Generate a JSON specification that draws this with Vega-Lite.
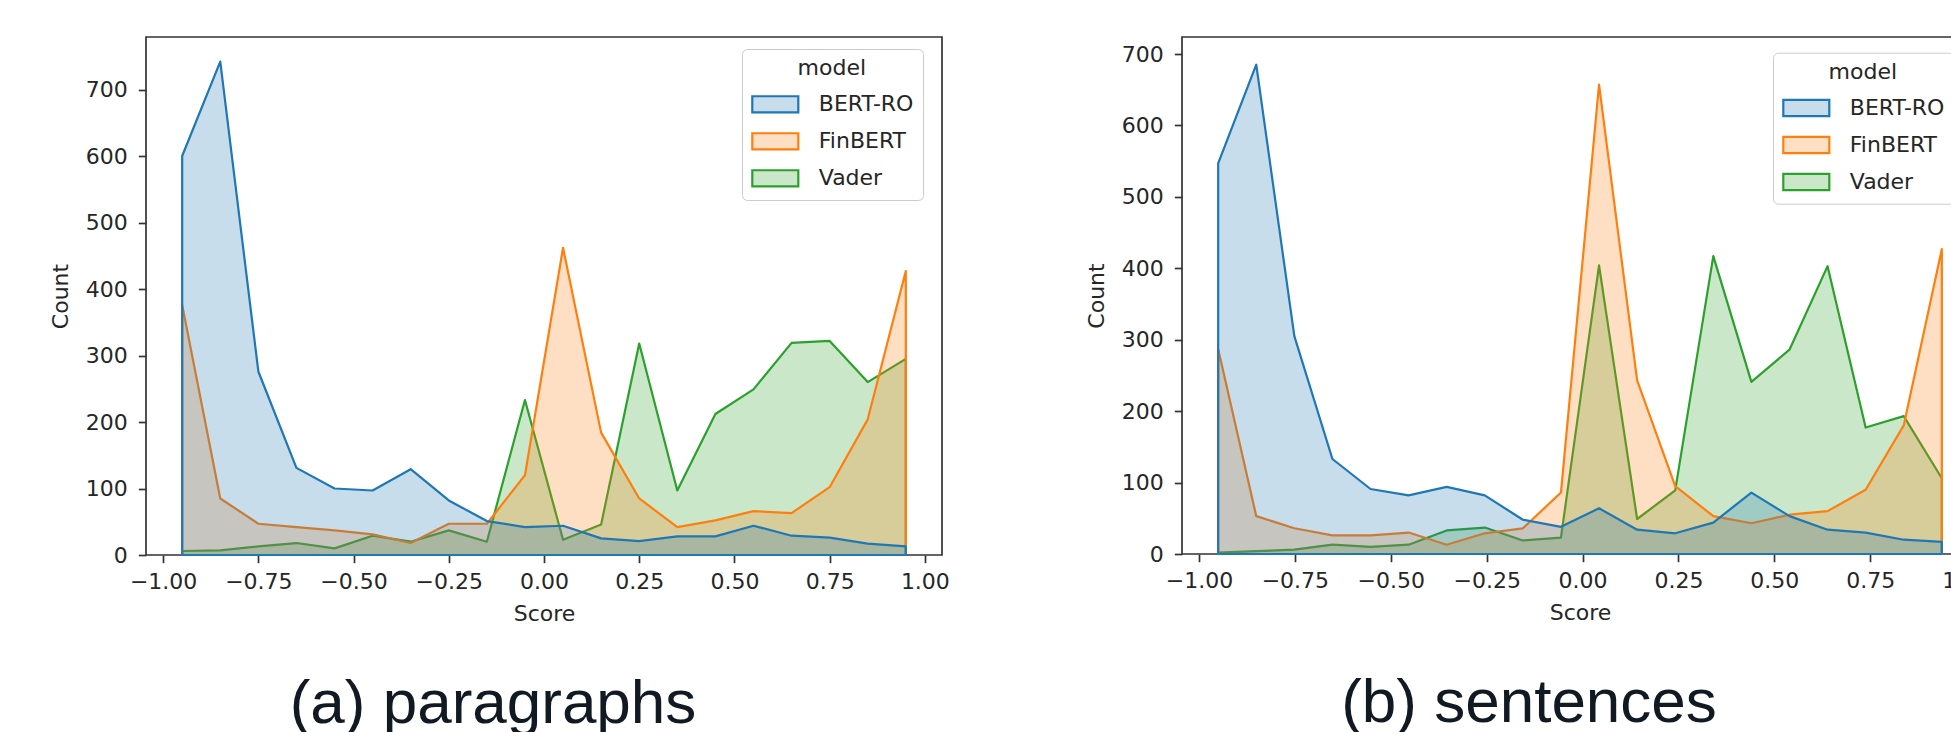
{
  "$schema": "https://vega.github.io/schema/vega-lite/v6.json",
  "background": "white",
  "padding": {"left": 48, "top": 36, "right": 0, "bottom": 0},
  "autosize": {"type": "pad"},
  "bounds": "flush",
  "spacing": 240,
  "resolve": {"scale": {"fill": "independent", "stroke": "independent"}, "legend": {"fill": "independent", "stroke": "independent"}},
  "datasets": {
    "paragraphs": [
      {"model": "Vader", "score": -0.95, "count": 6}, {"model": "Vader", "score": -0.85, "count": 7}, {"model": "Vader", "score": -0.75, "count": 13}, {"model": "Vader", "score": -0.65, "count": 18}, {"model": "Vader", "score": -0.55, "count": 10}, {"model": "Vader", "score": -0.45, "count": 29}, {"model": "Vader", "score": -0.35, "count": 20}, {"model": "Vader", "score": -0.25, "count": 37}, {"model": "Vader", "score": -0.15, "count": 20}, {"model": "Vader", "score": -0.05, "count": 233}, {"model": "Vader", "score": 0.05, "count": 23}, {"model": "Vader", "score": 0.15, "count": 46}, {"model": "Vader", "score": 0.25, "count": 318}, {"model": "Vader", "score": 0.35, "count": 97}, {"model": "Vader", "score": 0.45, "count": 212}, {"model": "Vader", "score": 0.55, "count": 249}, {"model": "Vader", "score": 0.65, "count": 319}, {"model": "Vader", "score": 0.75, "count": 322}, {"model": "Vader", "score": 0.85, "count": 260}, {"model": "Vader", "score": 0.95, "count": 295},
      {"model": "FinBERT", "score": -0.95, "count": 376}, {"model": "FinBERT", "score": -0.85, "count": 85}, {"model": "FinBERT", "score": -0.75, "count": 47}, {"model": "FinBERT", "score": -0.65, "count": 42}, {"model": "FinBERT", "score": -0.55, "count": 37}, {"model": "FinBERT", "score": -0.45, "count": 31}, {"model": "FinBERT", "score": -0.35, "count": 18}, {"model": "FinBERT", "score": -0.25, "count": 47}, {"model": "FinBERT", "score": -0.15, "count": 47}, {"model": "FinBERT", "score": -0.05, "count": 120}, {"model": "FinBERT", "score": 0.05, "count": 462}, {"model": "FinBERT", "score": 0.15, "count": 184}, {"model": "FinBERT", "score": 0.25, "count": 85}, {"model": "FinBERT", "score": 0.35, "count": 42}, {"model": "FinBERT", "score": 0.45, "count": 52}, {"model": "FinBERT", "score": 0.55, "count": 66}, {"model": "FinBERT", "score": 0.65, "count": 63}, {"model": "FinBERT", "score": 0.75, "count": 102}, {"model": "FinBERT", "score": 0.85, "count": 204}, {"model": "FinBERT", "score": 0.95, "count": 427},
      {"model": "BERT-RO", "score": -0.95, "count": 600}, {"model": "BERT-RO", "score": -0.85, "count": 742}, {"model": "BERT-RO", "score": -0.75, "count": 276}, {"model": "BERT-RO", "score": -0.65, "count": 131}, {"model": "BERT-RO", "score": -0.55, "count": 100}, {"model": "BERT-RO", "score": -0.45, "count": 97}, {"model": "BERT-RO", "score": -0.35, "count": 129}, {"model": "BERT-RO", "score": -0.25, "count": 82}, {"model": "BERT-RO", "score": -0.15, "count": 51}, {"model": "BERT-RO", "score": -0.05, "count": 42}, {"model": "BERT-RO", "score": 0.05, "count": 44}, {"model": "BERT-RO", "score": 0.15, "count": 25}, {"model": "BERT-RO", "score": 0.25, "count": 21}, {"model": "BERT-RO", "score": 0.35, "count": 28}, {"model": "BERT-RO", "score": 0.45, "count": 28}, {"model": "BERT-RO", "score": 0.55, "count": 44}, {"model": "BERT-RO", "score": 0.65, "count": 29}, {"model": "BERT-RO", "score": 0.75, "count": 26}, {"model": "BERT-RO", "score": 0.85, "count": 17}, {"model": "BERT-RO", "score": 0.95, "count": 13}
    ],
    "sentences": [
      {"model": "Vader", "score": -0.95, "count": 2}, {"model": "Vader", "score": -0.8507, "count": 4}, {"model": "Vader", "score": -0.7514, "count": 6}, {"model": "Vader", "score": -0.6521, "count": 13}, {"model": "Vader", "score": -0.5528, "count": 10}, {"model": "Vader", "score": -0.4535, "count": 13}, {"model": "Vader", "score": -0.3542, "count": 33}, {"model": "Vader", "score": -0.2549, "count": 37}, {"model": "Vader", "score": -0.1556, "count": 19}, {"model": "Vader", "score": -0.0563, "count": 23}, {"model": "Vader", "score": 0.043, "count": 404}, {"model": "Vader", "score": 0.1423, "count": 49}, {"model": "Vader", "score": 0.2416, "count": 89}, {"model": "Vader", "score": 0.3409, "count": 417}, {"model": "Vader", "score": 0.4402, "count": 241}, {"model": "Vader", "score": 0.5395, "count": 286}, {"model": "Vader", "score": 0.6388, "count": 403}, {"model": "Vader", "score": 0.7381, "count": 177}, {"model": "Vader", "score": 0.8374, "count": 193}, {"model": "Vader", "score": 0.9367, "count": 106},
      {"model": "FinBERT", "score": -0.95, "count": 287}, {"model": "FinBERT", "score": -0.8507, "count": 53}, {"model": "FinBERT", "score": -0.7514, "count": 36}, {"model": "FinBERT", "score": -0.6521, "count": 26}, {"model": "FinBERT", "score": -0.5528, "count": 26}, {"model": "FinBERT", "score": -0.4535, "count": 30}, {"model": "FinBERT", "score": -0.3542, "count": 13}, {"model": "FinBERT", "score": -0.2549, "count": 29}, {"model": "FinBERT", "score": -0.1556, "count": 36}, {"model": "FinBERT", "score": -0.0563, "count": 86}, {"model": "FinBERT", "score": 0.043, "count": 657}, {"model": "FinBERT", "score": 0.1423, "count": 243}, {"model": "FinBERT", "score": 0.2416, "count": 95}, {"model": "FinBERT", "score": 0.3409, "count": 53}, {"model": "FinBERT", "score": 0.4402, "count": 43}, {"model": "FinBERT", "score": 0.5395, "count": 55}, {"model": "FinBERT", "score": 0.6388, "count": 60}, {"model": "FinBERT", "score": 0.7381, "count": 90}, {"model": "FinBERT", "score": 0.8374, "count": 180}, {"model": "FinBERT", "score": 0.9367, "count": 427},
      {"model": "BERT-RO", "score": -0.95, "count": 547}, {"model": "BERT-RO", "score": -0.8507, "count": 685}, {"model": "BERT-RO", "score": -0.7514, "count": 305}, {"model": "BERT-RO", "score": -0.6521, "count": 133}, {"model": "BERT-RO", "score": -0.5528, "count": 91}, {"model": "BERT-RO", "score": -0.4535, "count": 82}, {"model": "BERT-RO", "score": -0.3542, "count": 94}, {"model": "BERT-RO", "score": -0.2549, "count": 82}, {"model": "BERT-RO", "score": -0.1556, "count": 48}, {"model": "BERT-RO", "score": -0.0563, "count": 38}, {"model": "BERT-RO", "score": 0.043, "count": 64}, {"model": "BERT-RO", "score": 0.1423, "count": 34}, {"model": "BERT-RO", "score": 0.2416, "count": 29}, {"model": "BERT-RO", "score": 0.3409, "count": 44}, {"model": "BERT-RO", "score": 0.4402, "count": 86}, {"model": "BERT-RO", "score": 0.5395, "count": 53}, {"model": "BERT-RO", "score": 0.6388, "count": 34}, {"model": "BERT-RO", "score": 0.7381, "count": 30}, {"model": "BERT-RO", "score": 0.8374, "count": 20}, {"model": "BERT-RO", "score": 0.9367, "count": 17}
    ]
  },
  "hconcat": [
    {
      "width": 796,
      "height": 518,
      "title": {"text": "(a) paragraphs"},
      "data": {"name": "paragraphs"},
      "mark": {"type": "area", "strokeWidth": 2.2, "strokeJoin": "round"},
      "encoding": {
        "x": {"field": "score", "type": "quantitative", "scale": {"domain": [-1.045, 1.045], "nice": false, "zero": false}, "axis": {"values": [-1, -0.75, -0.5, -0.25, 0, 0.25, 0.5, 0.75, 1], "format": ".2f", "title": "Score"}},
        "y": {"field": "count", "type": "quantitative", "stack": null, "scale": {"domain": [0, 779], "nice": false}, "axis": {"values": [0, 100, 200, 300, 400, 500, 600, 700], "title": "Count"}},
        "fill": {"field": "model", "type": "nominal", "scale": {"domain": ["BERT-RO", "FinBERT", "Vader"], "range": ["rgba(31,119,180,0.25)", "rgba(255,127,14,0.25)", "rgba(44,160,44,0.25)"]}, "legend": {"title": "model", "orient": "none", "legendX": 596, "legendY": 12}},
        "stroke": {"field": "model", "type": "nominal", "scale": {"domain": ["BERT-RO", "FinBERT", "Vader"], "range": ["#1f77b4", "#ff7f0e", "#2ca02c"]}, "legend": {"title": "model", "orient": "none", "legendX": 596, "legendY": 12}}
      }
    },
    {
      "width": 796,
      "height": 517,
      "title": {"text": "(b) sentences"},
      "data": {"name": "sentences"},
      "mark": {"type": "area", "strokeWidth": 2.2, "strokeJoin": "round"},
      "encoding": {
        "x": {"field": "score", "type": "quantitative", "scale": {"domain": [-1.0443, 1.031], "nice": false, "zero": false}, "axis": {"values": [-1, -0.75, -0.5, -0.25, 0, 0.25, 0.5, 0.75, 1], "format": ".2f", "title": "Score"}},
        "y": {"field": "count", "type": "quantitative", "stack": null, "scale": {"domain": [0, 723.8], "nice": false}, "axis": {"values": [0, 100, 200, 300, 400, 500, 600, 700], "title": "Count"}},
        "fill": {"field": "model", "type": "nominal", "scale": {"domain": ["BERT-RO", "FinBERT", "Vader"], "range": ["rgba(31,119,180,0.25)", "rgba(255,127,14,0.25)", "rgba(44,160,44,0.25)"]}, "legend": {"title": "model", "orient": "none", "legendX": 591, "legendY": 15.7}},
        "stroke": {"field": "model", "type": "nominal", "scale": {"domain": ["BERT-RO", "FinBERT", "Vader"], "range": ["#1f77b4", "#ff7f0e", "#2ca02c"]}, "legend": {"title": "model", "orient": "none", "legendX": 591, "legendY": 15.7}}
      }
    }
  ],
  "config": {
    "view": {"stroke": "#333333", "strokeWidth": 1.7},
    "axis": {"domain": false, "grid": false, "tickColor": "#333333", "tickWidth": 1.7, "tickSize": 7.7, "labelFont": "DejaVu Sans", "labelFontSize": 22, "labelColor": "#262626", "titleFont": "DejaVu Sans", "titleFontSize": 22, "titleFontWeight": "normal", "titleColor": "#262626"},
    "axisX": {"labelPadding": 9, "titlePadding": 11},
    "axisY": {"labelPadding": 11, "titlePadding": 13},
    "legend": {"padding": 8.8, "cornerRadius": 5, "strokeColor": "#cccccc", "fillColor": "rgba(255,255,255,0.8)", "titleFont": "DejaVu Sans", "titleFontSize": 22, "titleFontWeight": "normal", "titleColor": "#262626", "titlePadding": 0, "titleAnchor": "middle", "labelFont": "DejaVu Sans", "labelFontSize": 22, "labelColor": "#262626", "labelOffset": 19, "rowPadding": -0.6, "symbolType": "M-1,-0.35H1V0.35H-1Z", "symbolSize": 2116, "symbolStrokeWidth": 2.2},
    "title": {"font": "Liberation Sans", "fontSize": 62, "fontWeight": "normal", "color": "#111a22", "orient": "bottom", "anchor": "middle", "offset": 49, "dx": -51}
  }
}
